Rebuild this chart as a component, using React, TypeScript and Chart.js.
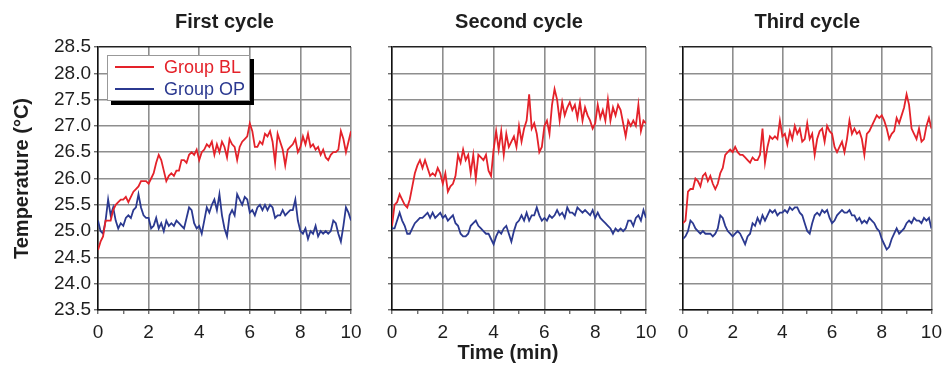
import React, { useEffect, useRef } from "react";
import { Chart, registerables } from "chart.js";

Chart.register(...registerables);

// ---------- data ----------
const TIME = [
  0, 0.1, 0.2, 0.3, 0.4, 0.5, 0.6, 0.7, 0.8, 0.9,
  1, 1.1, 1.2, 1.3, 1.4, 1.5, 1.6, 1.7, 1.8, 1.9,
  2, 2.1, 2.2, 2.3, 2.4, 2.5, 2.6, 2.7, 2.8, 2.9,
  3, 3.1, 3.2, 3.3, 3.4, 3.5, 3.6, 3.7, 3.8, 3.9,
  4, 4.1, 4.2, 4.3, 4.4, 4.5, 4.6, 4.7, 4.8, 4.9,
  5, 5.1, 5.2, 5.3, 5.4, 5.5, 5.6, 5.7, 5.8, 5.9,
  6, 6.1, 6.2, 6.3, 6.4, 6.5, 6.6, 6.7, 6.8, 6.9,
  7, 7.1, 7.2, 7.3, 7.4, 7.5, 7.6, 7.7, 7.8, 7.9,
  8, 8.1, 8.2, 8.3, 8.4, 8.5, 8.6, 8.7, 8.8, 8.9,
  9, 9.1, 9.2, 9.3, 9.4, 9.5, 9.6, 9.7, 9.8, 9.9,
  10,
];

const FIRST_BL = [
  24.64, 24.8, 24.9, 25.2, 25.2, 25.2, 25.4, 25.5, 25.55, 25.6,
  25.6, 25.65, 25.55, 25.65, 25.75, 25.8, 25.85, 25.95, 25.95, 25.95,
  25.9, 26.0, 26.1, 26.3, 26.45, 26.35, 26.15, 25.95, 26.05, 26.1,
  26.05, 26.15, 26.15, 26.35, 26.35, 26.3, 26.45, 26.5, 26.45, 26.55,
  26.35, 26.5, 26.55, 26.65, 26.6, 26.7, 26.45, 26.65, 26.5, 26.7,
  26.6, 26.4, 26.75, 26.65, 26.6, 26.35, 26.6, 26.7, 26.75, 26.8,
  27.05, 26.9, 26.6, 26.6, 26.7, 26.65, 26.85, 26.8, 26.9, 26.7,
  26.3, 26.85, 26.7, 26.55, 26.25, 26.55, 26.6, 26.65, 26.75, 26.5,
  26.6, 26.8, 26.65, 26.85, 26.6, 26.65, 26.55, 26.6, 26.45, 26.55,
  26.4, 26.35, 26.45, 26.5, 26.5, 26.55, 26.9, 26.75, 26.5, 26.7,
  26.9,
];
const FIRST_OP = [
  25.2, 25.0, 24.95, 25.2, 25.6, 25.3, 25.45, 25.2, 25.05, 25.15,
  25.1, 25.25, 25.3, 25.25, 25.4, 25.45, 25.7, 25.45, 25.3, 25.25,
  25.25, 25.05, 25.1, 25.25, 25.05, 25.15, 25.0, 25.2, 25.1, 25.15,
  25.1, 25.2, 25.15, 25.1, 25.05, 25.25, 25.45, 25.4, 25.15, 25.05,
  25.1, 24.95, 25.2, 25.45, 25.35, 25.5, 25.6, 25.4, 25.7, 25.3,
  25.05, 24.9, 25.3, 25.4, 25.3, 25.7, 25.6, 25.5, 25.65, 25.6,
  25.35, 25.4, 25.3, 25.45, 25.5, 25.4, 25.5, 25.4, 25.5, 25.45,
  25.25, 25.3, 25.3, 25.4, 25.3, 25.35, 25.4, 25.4, 25.6, 25.2,
  25.0, 24.95, 25.05, 24.85, 25.0, 24.95, 25.1, 24.9, 25.0, 24.95,
  25.0, 24.95, 25.0, 25.2, 25.15, 24.95, 24.8, 25.1, 25.45, 25.35,
  25.2,
];
const SECOND_BL = [
  25.1, 25.5, 25.55, 25.7, 25.6, 25.5, 25.45, 25.6, 25.85, 26.1,
  26.25, 26.35, 26.2, 26.35, 26.2, 26.05, 26.1, 26.05, 26.2, 26.1,
  25.9, 26.1, 25.75, 25.85, 25.9, 26.05, 26.45, 26.3, 26.55, 26.35,
  26.45, 26.1, 26.45, 26.0, 26.45, 26.4, 26.35, 26.45, 26.15, 26.05,
  26.55, 26.9, 26.55, 26.9, 26.45, 26.85, 26.6, 26.7, 26.8, 26.6,
  27.0, 26.7, 26.95, 27.1, 27.6, 26.95, 27.05, 26.85, 26.5, 26.6,
  27.0, 27.1, 26.85, 27.4, 27.7, 27.5, 27.1, 27.45, 27.2, 27.35,
  27.45, 27.3, 27.4, 27.15, 27.45, 27.1, 27.35, 27.2, 27.1, 26.95,
  27.05, 27.4, 27.15, 27.3, 27.1, 27.5, 27.1, 27.35, 27.2, 27.4,
  27.3, 27.05, 26.8, 27.1, 27.0, 27.1, 27.0, 27.4, 26.9, 27.1,
  27.05,
];
const SECOND_OP = [
  25.05, 25.05, 25.2, 25.35, 25.2, 25.1, 24.95, 24.95, 25.05, 25.15,
  25.2, 25.25, 25.25, 25.3, 25.35, 25.25, 25.35, 25.25, 25.3, 25.35,
  25.25, 25.3, 25.2, 25.25, 25.3, 25.15, 25.1, 24.95, 24.9, 24.9,
  24.95, 25.1, 25.15, 25.2, 25.1, 25.05, 25.0, 24.95, 24.95, 24.85,
  24.75, 24.9, 25.0, 24.95, 25.05, 25.1, 24.95, 24.8, 25.0, 25.15,
  25.2, 25.3, 25.2, 25.35, 25.2, 25.3, 25.3, 25.45, 25.3, 25.2,
  25.25, 25.2, 25.3, 25.25, 25.3, 25.4, 25.3, 25.35, 25.25, 25.45,
  25.35, 25.35, 25.3, 25.45, 25.4, 25.35, 25.4, 25.35, 25.3, 25.4,
  25.25, 25.35, 25.25, 25.2, 25.15, 25.1, 25.05, 24.95, 25.05, 25.0,
  25.05, 25.0, 25.05, 25.2, 25.2, 25.1, 25.25, 25.3, 25.2, 25.4,
  25.25,
];
const THIRD_BL = [
  25.15, 25.2, 25.75, 25.8, 25.8, 26.0, 25.95, 25.85, 26.05, 26.1,
  25.95, 26.05, 25.9, 25.8, 25.9, 26.1, 26.2, 26.45, 26.5, 26.55,
  26.5, 26.6, 26.5, 26.45, 26.45, 26.4, 26.35, 26.3, 26.4, 26.35,
  26.35, 26.45, 26.95, 26.3, 26.6, 26.8, 26.75, 26.8, 26.75, 27.1,
  26.8, 26.85, 26.65, 26.9, 26.75, 27.0, 26.85, 26.95, 26.7, 26.75,
  27.05, 26.75, 26.85, 26.45, 26.75, 26.9, 26.95, 26.7, 27.0, 26.9,
  26.85, 26.6, 26.5, 26.6, 26.7, 26.5, 26.75, 27.1, 26.85, 26.95,
  26.85, 26.9, 26.75, 26.45, 26.85, 26.9, 27.0, 27.1, 27.2, 27.15,
  27.2, 27.1, 26.95, 26.75, 26.85, 26.9, 27.15, 27.05, 27.2, 27.35,
  27.6, 27.4, 26.95, 26.85, 26.75, 26.95, 26.7, 26.75, 27.0, 27.15,
  26.95,
];
const THIRD_OP = [
  24.85, 24.9, 25.0, 25.2, 25.15, 25.05, 25.0, 24.95, 25.0, 24.95,
  24.95, 24.95, 24.9, 24.95, 25.05, 25.3, 25.25, 25.1, 25.0, 24.95,
  24.9, 24.95, 25.0, 24.95, 24.85, 24.75, 24.9, 24.95, 25.15, 25.1,
  25.25, 25.15, 25.3, 25.2, 25.3, 25.4, 25.35, 25.4, 25.3, 25.35,
  25.35, 25.4, 25.35, 25.45, 25.4, 25.45, 25.45, 25.35, 25.3, 25.15,
  25.0, 24.95, 25.15, 25.3, 25.35, 25.3, 25.4, 25.35, 25.4, 25.25,
  25.15, 25.2, 25.3, 25.35, 25.4, 25.35, 25.35, 25.4, 25.3, 25.3,
  25.2, 25.25, 25.15, 25.2, 25.15, 25.25, 25.2, 25.15, 25.05, 25.0,
  24.85, 24.75, 24.65, 24.7, 24.85, 24.95, 25.05, 24.95, 25.0, 25.05,
  25.15, 25.2, 25.15, 25.25, 25.2, 25.2, 25.15, 25.25, 25.2, 25.25,
  25.05,
];

const PANEL_TITLES = ["First cycle", "Second cycle", "Third cycle"];
const SERIES_NAMES = ["Group BL", "Group OP"];
const X_TITLE = "Time (min)";
const Y_TITLE = "Temperature (°C)";
const Y_MIN = 23.5;
const Y_MAX = 28.5;
const Y_STEP = 0.5;
const X_MIN = 0;
const X_MAX = 10;

const PANEL_DATA = [
  [FIRST_BL, FIRST_OP],
  [SECOND_BL, SECOND_OP],
  [THIRD_BL, THIRD_OP],
];

// ---------- styles / layout ----------
const W = 949;
const H = 369;
const AREA_TOP = 47;
const AREA_BOTTOM = 310;
const AREAS = [
  { left: 98, right: 351 },
  { left: 392, right: 646 },
  { left: 683, right: 938 },
];
const COLORS = ["#e4222a", "#2b3990"];
const FONT = "'Liberation Sans', Arial, Helvetica, sans-serif";
const TEXT = "#1e1e1e";
const GRID = "#8e8e8e";

function makeConfig(i: number) {
  const area = AREAS[i];
  const yWidth = i === 0 ? 98 : 10;
  const series = PANEL_DATA[i];

  const panelPlugin = {
    id: "panelText" + i,
    afterDatasetsDraw(chart: any) {
      if (i !== 0) return;
      const ctx = chart.ctx;
      ctx.save();
      const bx = 107, by = 55, bw = 143, bh = 46;
      ctx.fillStyle = "#000";
      ctx.fillRect(bx + 4, by + 4, bw, bh);
      ctx.fillStyle = "#fff";
      ctx.fillRect(bx, by, bw, bh);
      ctx.strokeStyle = "#999";
      ctx.lineWidth = 1;
      ctx.strokeRect(bx + 0.5, by + 0.5, bw - 1, bh - 1);
      ctx.font = `18px ${FONT}`;
      ctx.textBaseline = "middle";
      ctx.textAlign = "left";
      SERIES_NAMES.forEach((name, k) => {
        const y = by + 12 + k * 22;
        ctx.strokeStyle = COLORS[k];
        ctx.lineWidth = 1.8;
        ctx.beginPath();
        ctx.moveTo(bx + 8, y);
        ctx.lineTo(bx + 47, y);
        ctx.stroke();
        ctx.fillStyle = COLORS[k];
        ctx.fillText(name, bx + 57, y + 1);
      });
      ctx.restore();
    },
    afterDraw(chart: any) {
      const ctx = chart.ctx;
      const ca = chart.chartArea;
      ctx.save();
      ctx.fillStyle = TEXT;
      ctx.font = `bold 20px ${FONT}`;
      ctx.textAlign = "center";
      ctx.textBaseline = "middle";
      ctx.fillText(PANEL_TITLES[i], (ca.left + ca.right) / 2, 22);
      if (i === 1) {
        ctx.fillText(X_TITLE, 508, 353);
      }
      ctx.restore();
    },
  };

  return {
    type: "line" as const,
    data: {
      datasets: series.map((vals, k) => ({
        label: SERIES_NAMES[k],
        data: TIME.map((t, j) => ({ x: t, y: vals[j] })),
        borderColor: COLORS[k],
        backgroundColor: COLORS[k],
        borderWidth: 1.8,
        pointRadius: 0,
        tension: 0,
        fill: false,
      })),
    },
    options: {
      responsive: false,
      animation: false as const,
      devicePixelRatio: 1,
      events: [],
      layout: {
        padding: {
          left: area.left - yWidth,
          right: W - area.right,
          top: AREA_TOP,
          bottom: 0,
        },
      },
      plugins: {
        legend: { display: false },
        tooltip: { enabled: false },
        title: { display: false },
      },
      scales: {
        x: {
          type: "linear" as const,
          min: X_MIN,
          max: X_MAX,
          afterFit: (s: any) => {
            s.height = H - AREA_BOTTOM;
          },
          ticks: {
            stepSize: 1,
            autoSkip: false,
            maxRotation: 0,
            padding: 7,
            color: TEXT,
            font: { family: FONT, size: 19 },
            callback: (v: any) => (Number(v) % 2 === 0 ? String(v) : ""),
          },
          grid: {
            color: (c: any) =>
              c.tick && Number(c.tick.value) % 2 === 0 ? GRID : "rgba(0,0,0,0)",
            lineWidth: 1.6,
            tickLength: 4,
            tickColor: "#333",
            tickWidth: 1,
          },
          border: { color: "#111", width: 1.5 },
        },
        y: {
          type: "linear" as const,
          min: Y_MIN,
          max: Y_MAX,
          afterFit: (s: any) => {
            s.width = yWidth;
          },
          ticks: {
            stepSize: Y_STEP,
            display: i === 0,
            padding: 3,
            color: TEXT,
            font: { family: FONT, size: 19 },
            callback: (v: any) => Number(v).toFixed(1),
          },
          grid: {
            color: (c: any) =>
              c.tick && Math.abs(Number(c.tick.value) - Y_MAX) < 1e-6 ? "#222" : GRID,
            lineWidth: 1.6,
            tickLength: 4,
            tickColor: "#333",
            tickWidth: 1,
          },
          border: { color: "#111", width: 1.5 },
          title: {
            display: i === 0,
            text: Y_TITLE,
            color: TEXT,
            font: { family: FONT, size: 20, weight: "bold" as const },
            padding: { top: 10, bottom: 0 },
          },
        },
      },
    },
    plugins: [panelPlugin],
  };
}

export default function App() {
  const r0 = useRef<HTMLCanvasElement | null>(null);
  const r1 = useRef<HTMLCanvasElement | null>(null);
  const r2 = useRef<HTMLCanvasElement | null>(null);
  const refs = [r0, r1, r2];

  useEffect(() => {
    const charts = refs.map((r, i) => new Chart(r.current as HTMLCanvasElement, makeConfig(i) as any));
    return () => charts.forEach((c) => c.destroy());
  }, []);

  return (
    <div
      style={{
        position: "absolute",
        left: 0,
        top: 0,
        width: W,
        height: H,
        background: "#fff",
      }}
    >
      {refs.map((r, i) => (
        <canvas
          key={i}
          ref={r}
          width={W}
          height={H}
          style={{ position: "absolute", left: 0, top: 0, width: W, height: H }}
        />
      ))}
    </div>
  );
}
